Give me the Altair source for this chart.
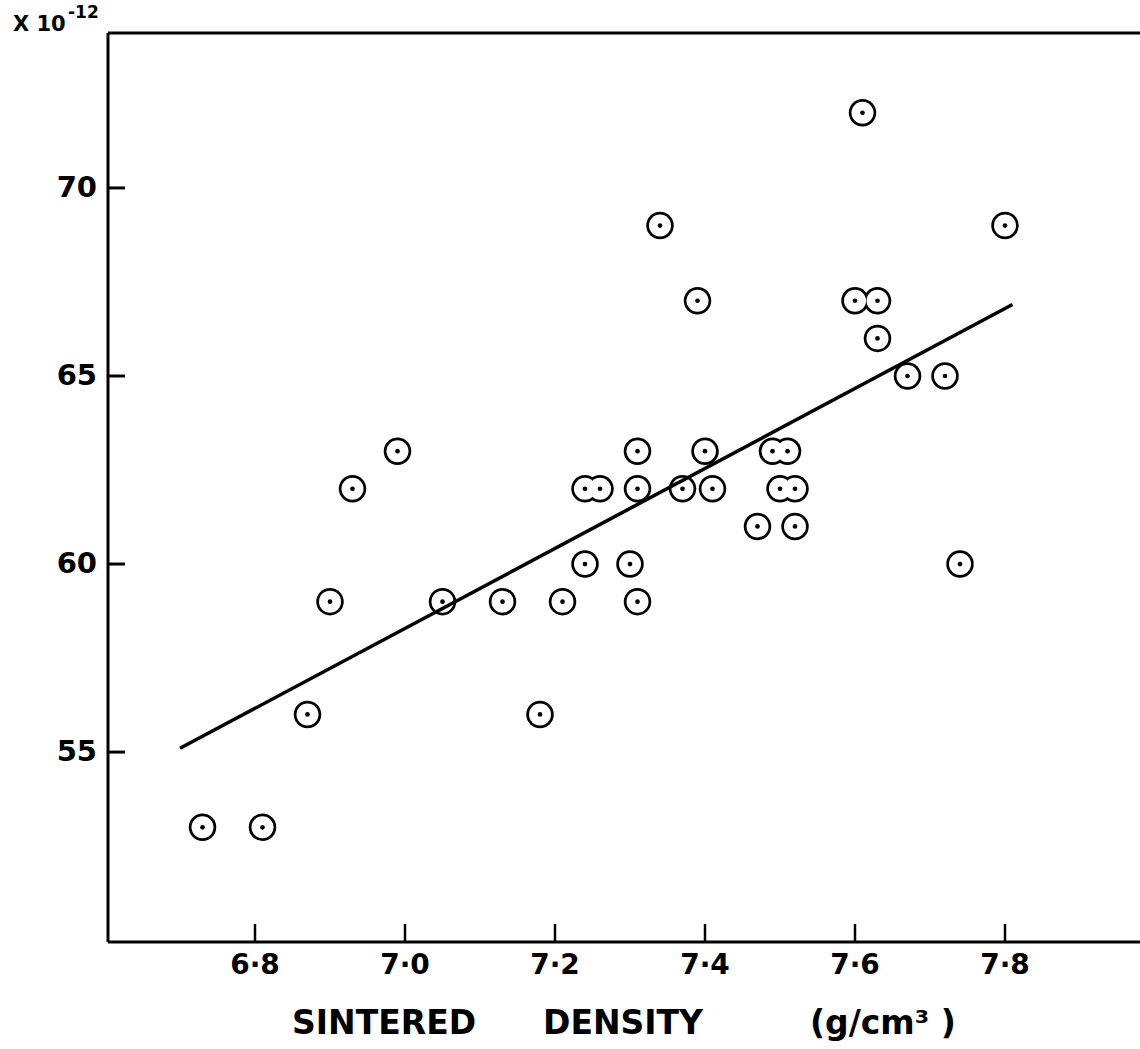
import altair as alt
import pandas as pd

# ---- data ----
density = [6.73, 6.81, 6.87, 6.90, 6.93, 6.99, 7.05, 7.13, 7.18, 7.21,
           7.24, 7.24, 7.26, 7.30, 7.31, 7.31, 7.31, 7.34, 7.37, 7.39,
           7.40, 7.41, 7.47, 7.49, 7.51, 7.50, 7.52, 7.52, 7.60, 7.61,
           7.63, 7.63, 7.67, 7.72, 7.74, 7.80]
value = [53, 53, 56, 59, 62, 63, 59, 59, 56, 59,
         60, 62, 62, 60, 59, 62, 63, 69, 62, 67,
         63, 62, 61, 63, 63, 62, 62, 61, 67, 72,
         67, 66, 65, 65, 60, 69]
fit_density = [6.70, 7.81]
fit_value = [55.1, 66.9]
x_ticks = [6.8, 7.0, 7.2, 7.4, 7.6, 7.8]
x_tick_labels = ["6·8", "7·0", "7·2", "7·4", "7·6", "7·8"]
y_ticks = [55, 60, 65, 70]
y_tick_labels = ["55", "60", "65", "70"]
x_title_words = ["SINTERED", "DENSITY", "(g/cm³ )"]
y_unit_base = "X 10"
y_unit_exp = "-12"

# ---- layout ----
W, H = 1032, 909
FONT = "DejaVu Sans"
X0, X1 = 6.604, 7.98
Y0, Y1 = 49.95, 74.12
xs = alt.Scale(domain=[X0, X1], nice=False, zero=False)
ys = alt.Scale(domain=[Y0, Y1], nice=False, zero=False)
YT_LEN, XT_LEN = 17, 18


def Xn(f="d"):
    return alt.X(f"{f}:Q", scale=xs, axis=None)


def Yn(f="v"):
    return alt.Y(f"{f}:Q", scale=ys, axis=None)


pts = pd.DataFrame({"d": density, "v": value})
fit = pd.DataFrame({"d": fit_density, "v": fit_value})
xt = pd.DataFrame({"d": x_ticks, "lab": x_tick_labels})
yt = pd.DataFrame({"v": y_ticks, "lab": y_tick_labels})

ring_outer = alt.Chart(pts).mark_point(shape="circle", filled=True, size=756,
                                       color="black", opacity=1).encode(x=Xn(), y=Yn())
ring_inner = alt.Chart(pts).mark_point(shape="circle", filled=True, size=484,
                                       color="white", opacity=1).encode(x=Xn(), y=Yn())
centre = alt.Chart(pts).mark_point(shape="circle", filled=True, size=22,
                                   color="black", opacity=1).encode(x=Xn(), y=Yn())

fit_line = alt.Chart(fit).mark_line(color="black", strokeWidth=3.5).encode(x=Xn(), y=Yn())

# frame: left, bottom and top lines
left_line = alt.Chart(pd.DataFrame({"d": [X0]})).mark_rule(
    color="black", strokeWidth=3).encode(x=Xn())
bottom_line = alt.Chart(pd.DataFrame({"v": [Y0]})).mark_rule(
    color="black", strokeWidth=3).encode(y=Yn())
top_line = alt.Chart(pd.DataFrame({"v": [Y1]})).mark_rule(
    color="black", strokeWidth=3).encode(y=Yn())

# inward ticks
ytick = alt.Chart(yt).mark_rule(color="black", strokeWidth=3).encode(
    y=Yn(), x=alt.value(0), x2=alt.value(YT_LEN))
xtick = alt.Chart(xt).mark_rule(color="black", strokeWidth=2.5).encode(
    x=Xn(), y=alt.value(H), y2=alt.value(H - XT_LEN))

# tick labels
ylab = alt.Chart(yt).mark_text(align="right", baseline="middle", font=FONT,
                               fontSize=29, fontWeight="bold", color="black").encode(
    y=Yn(), x=alt.value(-11), text="lab:N")
xlab = alt.Chart(xt).mark_text(align="center", baseline="top", font=FONT,
                               fontSize=28, fontWeight="bold", color="black").encode(
    x=Xn(), y=alt.value(H + 10), text="lab:N")

one = pd.DataFrame({"a": [0]})
texts = []
for word, px in zip(x_title_words, [184, 435, 702]):
    texts.append(alt.Chart(one).mark_text(
        text=word, align="left", baseline="alphabetic", font=FONT,
        fontSize=33, fontWeight="bold", color="black").encode(
        x=alt.value(px), y=alt.value(1001)))
texts.append(alt.Chart(one).mark_text(
    text=y_unit_base, align="left", baseline="alphabetic", font=FONT,
    fontSize=21, fontWeight="bold", color="black").encode(
    x=alt.value(13 - 108), y=alt.value(31 - 33)))
texts.append(alt.Chart(one).mark_text(
    text=y_unit_exp, align="left", baseline="alphabetic", font=FONT,
    fontSize=17, fontWeight="bold", color="black").encode(
    x=alt.value(68 - 108), y=alt.value(18 - 33)))

chart = alt.layer(ring_outer, ring_inner, centre, fit_line,
                  left_line, bottom_line, top_line, ytick, xtick,
                  ylab, xlab, *texts).properties(
    width=W, height=H, autosize="none",
    padding={"left": 108, "top": 33, "right": 0, "bottom": 107},
    background="white",
).configure_view(stroke=None)

chart.save("out.html", embed_options={"renderer": "svg", "actions": False})
